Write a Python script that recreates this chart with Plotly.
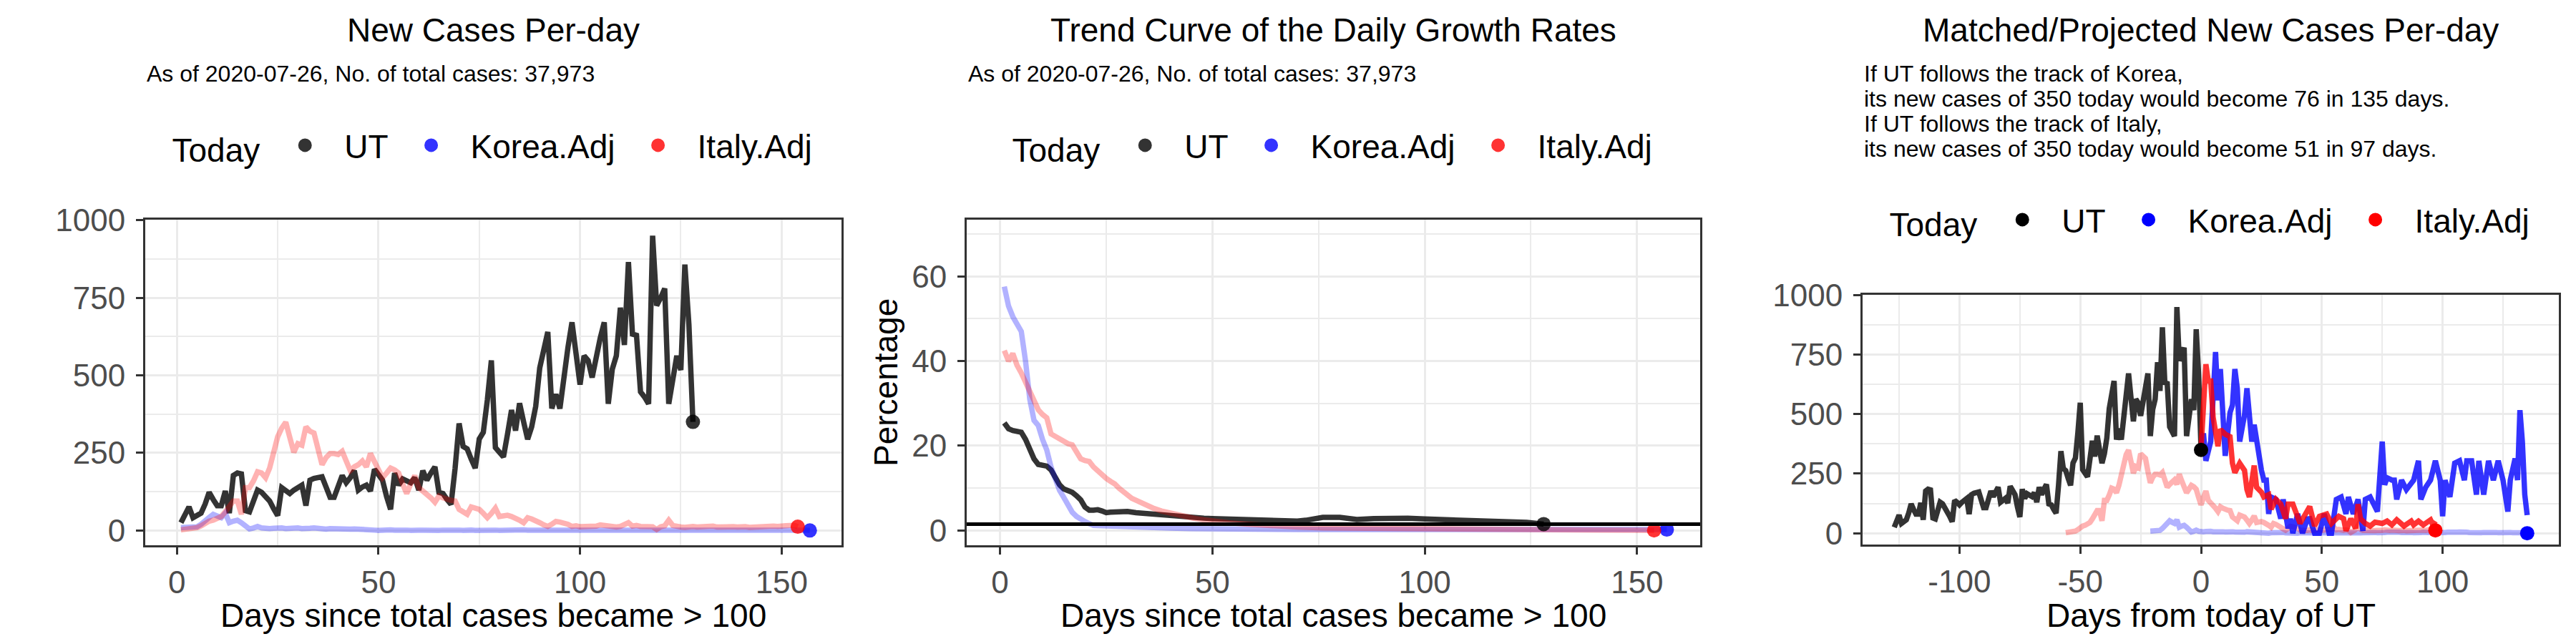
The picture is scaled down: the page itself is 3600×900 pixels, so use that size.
import plotly.graph_objects as go

# ---- data ----
# daily new cases, days since total cases > 100
ut_new = [25, 50, 76, 41, 48, 56, 85, 123, 100, 80,
          80, 127, 56, 177, 185, 182, 64, 60, 95, 130,
          123, 108, 95, 70, 48, 138, 130, 119, 130, 138,
          146, 80, 162, 168, 170, 173, 140, 107, 107, 145,
          177, 154, 170, 193, 130, 140, 146, 127, 197, 180,
          162, 110, 68, 185, 146, 166, 160, 154, 170, 130,
          193, 162, 185, 205, 123, 119, 100, 84, 200, 345,
          271, 263, 230, 201, 295, 316, 420, 548, 267, 250,
          237, 310, 388, 322, 410, 350, 294, 334, 400, 524,
          580, 640, 393, 439, 393, 500, 590, 671, 570, 470,
          563, 548, 493, 560, 620, 671, 408, 520, 563, 718,
          598, 865, 633, 629, 447, 430, 408, 950, 725, 750,
          780, 408, 490, 563, 517, 857, 664, 350]

korea_new = [9, 9, 10, 11, 12, 20, 33, 42, 52, 46,
             41, 56, 25, 30, 33, 25, 14, 5, 8, 13,
             8, 5, 6, 7, 9, 8, 6, 7, 9, 8,
             6, 5, 7, 8, 6, 5, 4, 6, 5, 4,
             6, 5, 4, 5, 5, 3, 4, 2, 1, 0,
             2, 3, 2, 1, 2, 3, 1, 0, 2, 1,
             1, 0, 2, 1, 0, 1, 2, 0, 1, 1,
             0, 2, 1, 0, 1, 1, 0, 2, 1, 0,
             1, 2, 1, 0, 1, 2, 1, 1, 2, 3,
             2, 3, 4, 3, 2, 4, 5, 3, 4, 5,
             4, 3, 5, 4, 3, 4, 5, 4, 3, 2,
             4, 5, 3, 4, 2, 3, 4, 3, 2, 4,
             3, 2, 3, 4, 3, 2, 3, 4, 5, 3,
             2, 4, 3, 2, 3, 4, 3, 2, 3, 4,
             5, 3, 4, 3, 2, 3, 4, 3, 2, 3,
             2, 3, 2, 1, 2, 1, 0]

italy_new = [2, 3, 5, 7, 9, 15, 25, 30, 33, 40,
             45, 60, 75, 95, 95, 52, 138, 138, 160, 189,
             185, 170, 201, 250, 302, 330, 349, 300, 252, 280,
             275, 334, 320, 314, 260, 212, 235, 248, 248, 245,
             255, 225, 193, 205, 212, 224, 205, 248, 220, 193,
             170, 185, 201, 195, 185, 150, 119, 150, 177, 138,
             128, 119, 105, 91, 111, 105, 99, 97, 95, 68,
             60, 52, 76, 72, 68, 55, 41, 55, 72, 45,
             47, 49, 45, 41, 33, 25, 41, 37, 33, 25,
             18, 13, 20, 29, 27, 25, 20, 13, 15, 12,
             12, 15, 11, 14, 18, 16, 12, 14, 11, 13,
             18, 25, 14, 16, 13, 12, 14, 12, 3, 12,
             15, 33, 16, 12, 11, 10, 12, 13, 11, 12,
             10, 12, 14, 11, 12, 13, 10, 12, 11, 13,
             12, 10, 11, 13, 12, 11, 12, 14, 13, 12,
             15, 16, 17, 12]

# trend curves of daily growth rate (%)
ut_rate_day = [1, 2, 3, 4, 5, 6, 7, 8, 9, 10, 11, 12, 13, 14, 15, 16, 17, 18, 19, 20,
               21, 22, 23, 24, 25, 26, 28, 30, 32, 34, 36, 38, 40, 42, 44, 46, 48, 50,
               55, 60, 65, 70, 72, 74, 76, 80, 84, 88, 92, 96, 100, 104, 108, 112,
               116, 120, 124, 128]
ut_rate = [25.4, 24, 23.6, 23.5, 23.2, 21.5, 19, 16.9, 15.6, 15.4, 15.2, 14.3, 12.5,
           10.8, 9.8, 9.4, 9, 8.2, 7.2, 5.5, 4.8, 4.8, 4.9, 4.6, 4.2, 4.3, 4.5, 4.5,
           4.2, 4, 3.8, 3.6, 3.4, 3.2, 3.1, 3, 2.9, 2.8, 2.6, 2.4, 2.2, 2.2, 2.4, 2.9,
           3.1, 3.1, 2.6, 2.8, 3.0, 2.9, 2.7, 2.6, 2.5, 2.4, 2.3, 2.1, 1.9, 1.5]

korea_rate_day = [1, 2, 3, 4, 5, 6, 7, 8, 9, 10, 11, 12, 13, 14, 15, 16, 17, 18, 19, 20,
                  21, 22, 24, 26, 28, 30, 35, 40, 45, 50, 55, 60, 70, 80, 90, 100, 110,
                  120, 130, 140, 150, 157]
korea_rate = [57.6, 53, 50.5, 48.5, 47, 40, 31, 26, 24.8, 21.5, 19, 15, 12, 9.5, 7.8,
              5.8, 4.3, 3.3, 2.6, 2.1, 1.6, 1.2, 1.1, 1.0, 0.95, 0.85, 0.7, 0.55, 0.45,
              0.35, 0.25, 0.2, 0.2, 0.2, 0.2, 0.3, 0.3, 0.3, 0.3, 0.2, 0.2, 0.2]

italy_rate_day = [1, 2, 3, 4, 5, 6, 7, 8, 9, 10, 11, 12, 13, 14, 15, 16, 17, 18, 19, 20,
                  21, 22, 23, 24, 25, 26, 27, 28, 29, 30, 31, 32, 33, 34, 36, 38, 40,
                  42, 44, 46, 48, 50, 54, 58, 62, 66, 70, 76, 84, 96, 110, 125, 140, 154]
italy_rate = [42.5, 40, 41.8, 39, 37.2, 35, 32.7, 30, 28.5, 27.4, 26.6, 22.8, 22.2,
              21.6, 21, 20.5, 20.2, 18.5, 16.9, 16.5, 16.3, 15, 14, 13, 12.3, 11.6, 11,
              10, 9, 8.4, 7.6, 7.1, 6.6, 6.1, 5.3, 4.6, 4.1, 3.6, 3.2, 2.8, 2.5, 2.2,
              1.8, 1.5, 1.2, 1.0, 0.8, 0.6, 0.5, 0.4, 0.3, 0.2, 0.1, 0.0]

ut_rate_today = 1.5

# projections from today of UT
korea_proj_day = [0, 1, 2, 4, 6, 7, 8, 9, 10, 12, 13, 14, 15, 16, 18, 19, 20, 21, 22,
                  24, 25, 26, 27, 28, 29, 31, 33, 34, 36, 37, 38, 40, 42, 44, 45, 47,
                  49, 51, 53, 54, 56, 58, 60, 61, 63, 65, 67, 68, 70, 73, 75, 76, 77,
                  79, 80, 81, 83, 85, 88, 90, 91, 93, 95, 97, 99, 100, 101, 103, 105,
                  107, 109, 110, 112, 114, 115, 117, 119, 121, 123, 125, 127, 128, 130,
                  131, 132, 133, 134, 135]
korea_proj = [350, 420, 304, 385, 761, 558, 690, 487, 325, 507, 538, 690, 609, 385, 497,
              609, 467, 385, 456, 304, 264, 223, 223, 81, 152, 142, 61, 142, 20, 61, 0,
              81, 0, 60, 61, 0, 0, 81, 0, 0, 142, 152, 81, 152, 81, 142, 10, 142, 152,
              91, 385, 203, 233, 223, 223, 142, 223, 183, 223, 304, 142, 193, 223, 304,
              223, 71, 223, 152, 294, 304, 223, 304, 304, 162, 304, 162, 304, 223, 304,
              223, 91, 223, 314, 223, 517, 385, 162, 76]

italy_proj_day = [0, 1, 2, 3, 4, 5, 6, 7, 8, 10, 12, 13, 14, 16, 18, 19, 20, 22, 23,
                  25, 26, 28, 29, 31, 33, 35, 36, 38, 41, 43, 45, 47, 49, 52, 54, 57,
                  59, 60, 62, 64, 65, 66, 68, 70, 72, 75, 77, 79, 81, 84, 87, 88, 90,
                  92, 95, 96, 97]
italy_proj = [355, 588, 710, 639, 639, 487, 436, 365, 436, 416, 406, 294, 254, 294,
              264, 183, 152, 284, 193, 172, 152, 162, 101, 142, 122, 61, 122, 122, 41,
              81, 112, 30, 71, 81, 41, 71, 61, 10, 61, 20, 122, 61, 41, 30, 46, 41, 51,
              35, 56, 30, 51, 35, 51, 35, 56, 35, 51]

korea_shift = 22   # Korea day 1 sits 21 days before UT today
italy_shift = 57   # Italy day 1 sits 56 days before UT today

subtitle = 'As of 2020-07-26, No. of total cases: 37,973'
proj_lines = ['If UT follows the track of Korea,',
              'its new cases of 350 today would become 76 in 135 days.',
              'If UT follows the track of Italy,',
              'its new cases of 350 today would become 51 in 97 days.']

# ---- build ----
ut_days = list(range(1, len(ut_new) + 1))
korea_days = list(range(1, len(korea_new) + 1))
italy_days = list(range(1, len(italy_new) + 1))
ut_today = len(ut_new)

DARK = 'rgba(0,0,0,0.8)'
BLUE_L = 'rgba(0,0,255,0.3)'
RED_L = 'rgba(255,0,0,0.3)'
BLUE_D = 'rgba(0,0,255,0.8)'
RED_D = 'rgba(255,0,0,0.8)'
LW = 7.5
MS = 20
FONT = 'Arial, Liberation Sans, sans-serif'

fig = go.Figure()


def line(x, y, color, xa, ya):
    fig.add_trace(go.Scatter(x=x, y=y, mode='lines', line=dict(color=color, width=LW),
                             xaxis=xa, yaxis=ya, showlegend=False, hoverinfo='skip'))


def dot(x, y, color, xa, ya):
    fig.add_trace(go.Scatter(x=[x], y=[y], mode='markers',
                             marker=dict(color=color, size=MS, line=dict(width=0)),
                             xaxis=xa, yaxis=ya, showlegend=False, hoverinfo='skip'))


# panel 1: new cases per day
line(ut_days, ut_new, DARK, 'x', 'y')
line(korea_days, korea_new, BLUE_L, 'x', 'y')
line(italy_days, italy_new, RED_L, 'x', 'y')
dot(ut_days[-1], ut_new[-1], DARK, 'x', 'y')
dot(korea_days[-1], korea_new[-1], BLUE_D, 'x', 'y')
dot(italy_days[-1], italy_new[-1], RED_D, 'x', 'y')

# panel 2: growth-rate trend
line(ut_rate_day, ut_rate, DARK, 'x2', 'y2')
line(korea_rate_day, korea_rate, BLUE_L, 'x2', 'y2')
line(italy_rate_day, italy_rate, RED_L, 'x2', 'y2')
dot(ut_rate_day[-1], ut_rate[-1], DARK, 'x2', 'y2')
dot(korea_rate_day[-1], korea_rate[-1], BLUE_D, 'x2', 'y2')
dot(italy_rate_day[-1], italy_rate[-1], RED_D, 'x2', 'y2')

# panel 3: matched / projected
line([d - ut_today for d in ut_days], ut_new, DARK, 'x3', 'y3')
line([d - korea_shift for d in korea_days], korea_new, BLUE_L, 'x3', 'y3')
line([d - italy_shift for d in italy_days], italy_new, RED_L, 'x3', 'y3')
line(korea_proj_day, korea_proj, BLUE_D, 'x3', 'y3')
line(italy_proj_day, italy_proj, RED_D, 'x3', 'y3')
dot(0, ut_new[-1], 'black', 'x3', 'y3')
dot(korea_days[-1] - korea_shift, korea_new[-1], 'blue', 'x3', 'y3')
dot(italy_days[-1] - italy_shift, italy_new[-1], 'red', 'x3', 'y3')

# legend entries
legend_cols = {
    'legend': ['#333333', '#3333FF', '#FF3333'],
    'legend2': ['#333333', '#3333FF', '#FF3333'],
    'legend3': ['black', 'blue', 'red'],
}
for lg, cols in legend_cols.items():
    for name, c in zip(['UT', 'Korea.Adj', 'Italy.Adj'], cols):
        fig.add_trace(go.Scatter(x=[None], y=[None], mode='markers', name=name,
                                 marker=dict(color=c, size=MS, line=dict(color=c, width=3)),
                                 legend=lg, xaxis='x', yaxis='y'))

W, H = 3600, 900
OFF = 8  # page body margin pushes the plot by this much


def px(v):
    return (v - OFF) / W


def py(v):
    return 1 - (v - OFF) / H


dom1 = [px(203), px(1176)]
dom2 = [px(1351), px(2376)]
dom3 = [px(2603), px(3576)]
ydom12 = [py(762), py(307)]
ydom3 = [py(761), py(412)]

axis_common = dict(showline=True, mirror=True, linecolor='#333333', linewidth=3,
                   ticks='outside', ticklen=10, tickwidth=3, tickcolor='#333333',
                   tickfont=dict(size=44, color='#4D4D4D', family=FONT),
                   showgrid=True, gridcolor='#EBEBEB', gridwidth=3, zeroline=False,
                   automargin=False)


def xax(dom, rng, tv, tt, minor_dt, anchor):
    return dict(axis_common, domain=dom, range=rng, tickvals=tv, ticktext=tt,
                ticklabelstandoff=1,
                minor=dict(showgrid=True, gridcolor='#EBEBEB', gridwidth=1.5,
                           dtick=minor_dt, tick0=0),
                anchor=anchor)


def yax(dom, rng, tv, minor_dt, anchor):
    return dict(axis_common, domain=dom, range=rng, tickvals=tv,
                ticktext=[str(v) for v in tv], ticklabelstandoff=6,
                minor=dict(showgrid=True, gridcolor='#EBEBEB', gridwidth=1.5,
                           dtick=minor_dt, tick0=0),
                anchor=anchor)


x12_ticks = [0, 50, 100, 150]
x3_ticks = [-100, -50, 0, 50, 100]
case_ticks = [0, 250, 500, 750, 1000]
rate_ticks = [0, 20, 40, 60]

legend_common = dict(orientation='h', xanchor='center', yanchor='middle',
                     font=dict(size=46, color='black', family=FONT),
                     title=dict(text='Today', side='left',
                                font=dict(size=46, color='black', family=FONT)),
                     bgcolor='rgba(0,0,0,0)', itemsizing='trace', itemclick=False,
                     itemwidth=100)

fig.update_layout(
    width=W, height=H, margin=dict(l=0, r=0, t=0, b=0, autoexpand=False),
    paper_bgcolor='white', plot_bgcolor='white',
    font=dict(family=FONT),
    xaxis=xax(dom1, [-7.85, 164.85], x12_ticks, [str(v) for v in x12_ticks], 25, 'y'),
    yaxis=yax(ydom12, [-47.7, 1001.7], case_ticks, 125, 'x'),
    xaxis2=xax(dom2, [-7.85, 164.85], x12_ticks, [str(v) for v in x12_ticks], 25, 'y2'),
    yaxis2=yax(ydom12, [-3.5, 73.4], rate_ticks, 10, 'x2'),
    xaxis3=xax(dom3, [-140.1, 148.1], x3_ticks, [str(v) for v in x3_ticks], 25, 'y3'),
    yaxis3=yax(ydom3, [-47.7, 1001.7], case_ticks, 125, 'x3'),
    legend=dict(legend_common, x=sum(dom1) / 2, y=py(203)),
    legend2=dict(legend_common, x=sum(dom2) / 2, y=py(203)),
    legend3=dict(legend_common, x=sum(dom3) / 2, y=py(307)),
    shapes=[dict(type='line', xref='x2 domain', yref='y2', x0=0, x1=1,
                 y0=ut_rate_today, y1=ut_rate_today,
                 line=dict(color='black', width=5))],
)

ann = []
titles = ['New Cases Per-day', 'Trend Curve of the Daily Growth Rates',
          'Matched/Projected New Cases Per-day']
for dom, t in zip([dom1, dom2, dom3], titles):
    ann.append(dict(text=t, x=sum(dom) / 2, y=py(42), xref='paper', yref='paper',
                    xanchor='center', yanchor='middle', showarrow=False,
                    font=dict(size=46, color='black', family=FONT)))
for dom in [dom1, dom2]:
    ann.append(dict(text=subtitle, x=dom[0], y=py(103), xref='paper', yref='paper',
                    xanchor='left', yanchor='middle', showarrow=False,
                    font=dict(size=32, color='black', family=FONT)))
for i, t in enumerate(proj_lines):
    ann.append(dict(text=t, x=dom3[0], y=py(103 + 35 * i), xref='paper',
                    yref='paper', xanchor='left', yanchor='middle', showarrow=False,
                    font=dict(size=32, color='black', family=FONT)))
xtitles = ['Days since total cases became > 100', 'Days since total cases became > 100',
           'Days from today of UT']
for dom, t in zip([dom1, dom2, dom3], xtitles):
    ann.append(dict(text=t, x=sum(dom) / 2, y=py(860), xref='paper', yref='paper',
                    xanchor='center', yanchor='middle', showarrow=False,
                    font=dict(size=46, color='black', family=FONT)))
ann.append(dict(text='Percentage', x=px(1238), y=py(535), xref='paper', yref='paper',
                xanchor='center', yanchor='middle', textangle=-90, showarrow=False,
                font=dict(size=46, color='black', family=FONT)))
fig.update_layout(annotations=ann)

fig.write_html('out.html', config={'displayModeBar': False})
